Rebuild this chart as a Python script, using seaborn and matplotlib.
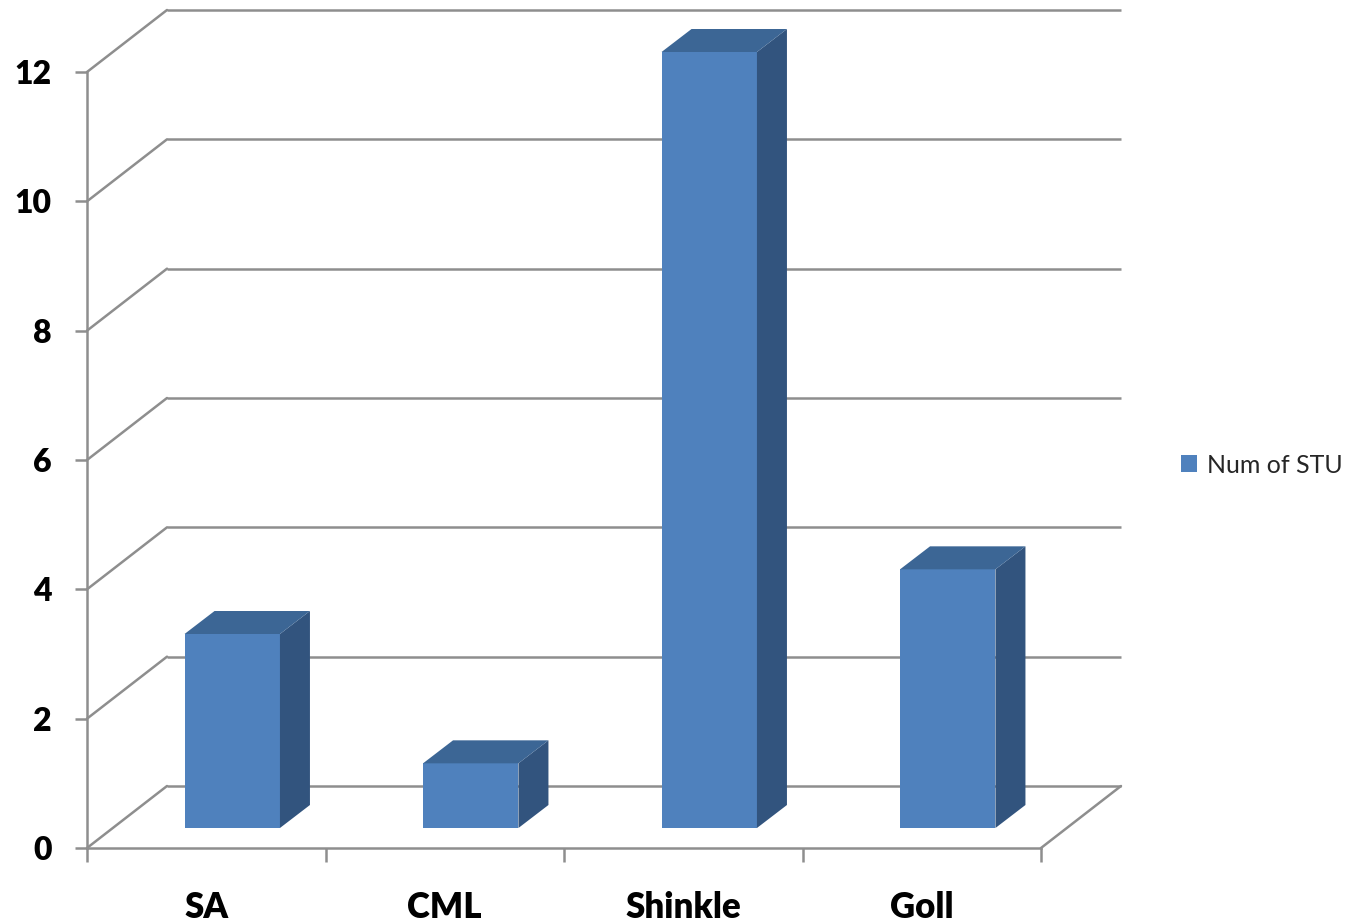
import matplotlib
matplotlib.use("Agg")
import matplotlib.pyplot as plt
import matplotlib.transforms as mtransforms
from matplotlib.patches import Polygon, Patch
import seaborn as sns
import pandas as pd

# Data
categories = ["SA", "CML", "Shinkle", "Goll"]
values = [3, 1, 12, 4]
series_name = "Num of STU"
y_ticks = [0, 2, 4, 6, 8, 10, 12]

FRONT = "#4F81BD"
TOP = "#3C6695"
SIDE = "#32547E"
GRID = "#8E8E8E"

sns.set_theme(style="white")
plt.rcParams["font.family"] = ["Lato", "DejaVu Sans"]

W, H, DPI = 1350, 922, 100
fig = plt.figure(figsize=(W / DPI, H / DPI), dpi=DPI)

# front plane of the plot box (pixels)
left_px, right_px, bottom_px, top_px = 87, 1041, 848, 72
ax = fig.add_axes([left_px / W, (H - bottom_px) / H,
                   (right_px - left_px) / W, (bottom_px - top_px) / H])
ax.set_xlim(-0.5, 3.5)
ax.set_ylim(0, 12)

px_x = (right_px - left_px) / 4.0      # pixels per category
px_y = (bottom_px - top_px) / 12.0     # pixels per unit value

# depth of the floor / back wall (pixels)
wall_dx, wall_dy = 80, 62
back = ax.transData + mtransforms.ScaledTranslation(wall_dx / DPI, wall_dy / DPI, fig.dpi_scale_trans)

LW = 1.8
# back wall gridlines and left wall diagonals
for v in y_ticks:
    ax.plot([-0.5, 3.5], [v, v], transform=back, color=GRID, lw=LW,
            clip_on=False, zorder=1, solid_capstyle="butt")
    ax.plot([-0.5, -0.5 + wall_dx / px_x], [v, v + wall_dy / px_y], color=GRID,
            lw=LW, clip_on=False, zorder=1)
# right edge of the floor
ax.plot([3.5, 3.5 + wall_dx / px_x], [0, wall_dy / px_y], color=GRID, lw=LW,
        clip_on=False, zorder=1)

# bars: front faces through seaborn, shifted into the depth of the floor
df = pd.DataFrame({"category": categories, "value": values})
sns.barplot(data=df, x="category", y="value", color=FRONT, saturation=1,
            width=0.4, ax=ax, zorder=3)

bar_fx, bar_fy = 26, 20         # front face offset into the floor (pixels)
bar_dx, bar_dy = 30, 23         # bar depth (pixels)
front = ax.transData + mtransforms.ScaledTranslation(bar_fx / DPI, bar_fy / DPI, fig.dpi_scale_trans)
ddx, ddy = bar_dx / px_x, bar_dy / px_y

for p in ax.patches:
    p.set_transform(front)
    p.set_edgecolor("none")
    p.set_clip_on(False)
    x0, w, h = p.get_x(), p.get_width(), p.get_height()
    side = Polygon([(x0 + w, 0), (x0 + w + ddx, ddy), (x0 + w + ddx, h + ddy), (x0 + w, h)],
                   closed=True, facecolor=SIDE, edgecolor="none", transform=front,
                   clip_on=False, zorder=3)
    top = Polygon([(x0, h), (x0 + ddx, h + ddy), (x0 + w + ddx, h + ddy), (x0 + w, h)],
                  closed=True, facecolor=TOP, edgecolor="none", transform=front,
                  clip_on=False, zorder=3)
    ax.add_patch(side)
    ax.add_patch(top)

# axes styling
for s in ["top", "right"]:
    ax.spines[s].set_visible(False)
for s in ["left", "bottom"]:
    ax.spines[s].set_color(GRID)
    ax.spines[s].set_linewidth(LW)
    ax.spines[s].set_zorder(2)
ax.grid(False)
ax.set_xlabel("")
ax.set_ylabel("")

ax.set_yticks(y_ticks)
ax.set_yticklabels([str(v) for v in y_ticks])
ax.tick_params(axis="y", left=True, length=8.6, width=LW, color=GRID, pad=17,
               labelsize=23)
ax.set_xticks(range(len(categories)))
ax.set_xticklabels(categories)
ax.tick_params(axis="x", which="major", bottom=False, length=0, pad=31, labelsize=25)
ax.set_xticks([-0.5, 0.5, 1.5, 2.5, 3.5], minor=True)
ax.tick_params(axis="x", which="minor", bottom=True, length=10, width=LW,
               color=GRID, direction="out")
for lab in ax.get_xticklabels() + ax.get_yticklabels():
    lab.set_fontweight("heavy")
    lab.set_color("black")

# legend
handle = Patch(facecolor=FRONT, edgecolor="none", label=series_name)
fig.legend(handles=[handle], loc="center left",
           bbox_to_anchor=(1176 / W, 1 - 465 / H), frameon=False, fontsize=18,
           handlelength=0.64, handleheight=0.64, handletextpad=0.4,
           borderaxespad=0, borderpad=0.2)

fig.savefig("out.png", dpi=DPI, facecolor="white")
